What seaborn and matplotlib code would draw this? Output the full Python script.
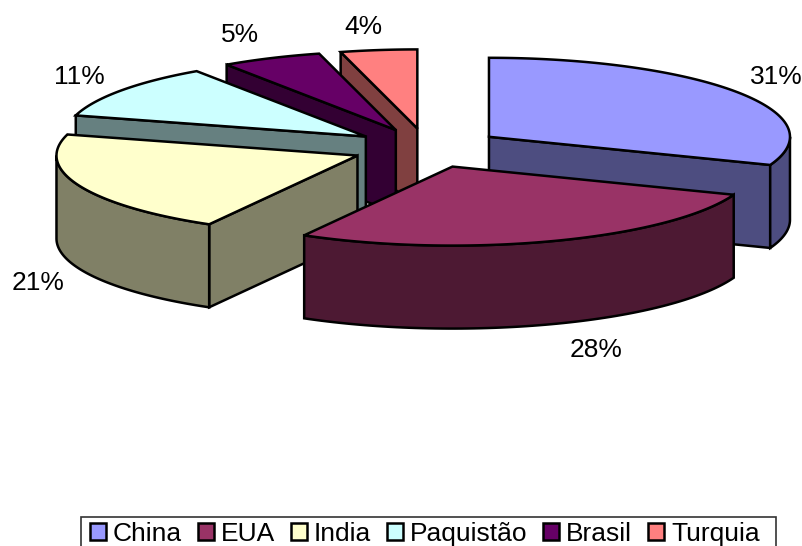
import numpy as np
import matplotlib
matplotlib.use("Agg")
import matplotlib.pyplot as plt
from matplotlib.patches import Polygon, Patch, Rectangle
import seaborn as sns

categories = ["China", "EUA", "India", "Paquistão", "Brasil", "Turquia"]
values = [30.8, 27.4, 21.1, 11.2, 5.4, 4.1]
pct_labels = ["31%", "28%", "21%", "11%", "5%", "4%"]
top_colors = ["#9999FF", "#993366", "#FFFFCC", "#CCFFFF", "#660066", "#FF8080"]
side_colors = ["#4D4D80", "#4D1933", "#808066", "#668080", "#330033", "#804040"]

sns.set_theme(style="white")
plt.rcParams["font.family"] = ["Liberation Sans", "DejaVu Sans"]
palette = sns.color_palette(top_colors)
side_palette = sns.color_palette(side_colors)

W, H = 803, 546
fig = plt.figure(figsize=(W / 100, H / 100), dpi=100)
ax = fig.add_axes([0, 0, 1, 1])
ax.set_xlim(0, W)
ax.set_ylim(H, 0)
ax.axis("off")

CX, CY, RX, RY, DEPTH, EXPLODE = 427, 148, 301, 79, 83, 0.25
LW = 1.8
label_pos = [(776, 77), (596, 350), (38, 283), (79, 77), (240, 35), (363, 27)]

fracs = np.array(values) / np.sum(values)
edges = np.concatenate([[0], np.cumsum(fracs)]) * 2 * np.pi


def pt(tip, a):
    return np.column_stack([tip[0] + RX * np.sin(a), tip[1] - RY * np.cos(a)])


def drop(p):
    return p + np.array([0, DEPTH])


def face(points, color, z):
    ax.add_patch(Polygon(points, closed=True, facecolor=color, edgecolor="black",
                         lw=LW, joinstyle="miter", zorder=z))


order = [5, 4, 3, 2, 0, 1]
for z, i in enumerate(order):
    a0, a1 = edges[i], edges[i + 1]
    mid = (a0 + a1) / 2
    tip = np.array([CX + EXPLODE * RX * np.sin(mid), CY - EXPLODE * RY * np.cos(mid)])
    base = z * 10
    tip_arr = tip[None, :]
    # visible cut faces
    if np.sin(a0) < 0:
        e = pt(tip, np.array([a0]))
        face(np.vstack([tip_arr, e, drop(e), drop(tip_arr)]), side_palette[i], base + 1)
    if np.sin(a1) > 0:
        e = pt(tip, np.array([a1]))
        face(np.vstack([tip_arr, e, drop(e), drop(tip_arr)]), side_palette[i], base + 1)
    # outer wall (front half of the rim)
    lo, hi = max(a0, np.pi / 2), min(a1, 3 * np.pi / 2)
    if hi > lo:
        arc = pt(tip, np.linspace(lo, hi, 80))
        face(np.vstack([arc, drop(arc)[::-1]]), side_palette[i], base + 2)
    # top face
    arc = pt(tip, np.linspace(a0, a1, 120))
    face(np.vstack([tip_arr, arc]), palette[i], base + 3)

for s, (x, y) in zip(pct_labels, label_pos):
    ax.text(x, y, s, ha="center", va="center", fontsize=19, color="black", zorder=200)

# legend frame runs past the bottom edge of the picture, as in the reference
ax.add_patch(Rectangle((81, 517), 695, 50, facecolor="white", edgecolor="#333333",
                       lw=1.2, zorder=290))
handles = [Patch(facecolor=c, edgecolor="black", lw=1.8) for c in palette]
leg = ax.legend(handles, categories, ncol=6, loc="upper left",
                bbox_to_anchor=(90 / W, 1 - 522 / H), bbox_transform=fig.transFigure,
                fontsize=19, frameon=False, labelcolor="black",
                handlelength=0.6, handleheight=0.6, handletextpad=0.27,
                columnspacing=0.6, borderpad=0, borderaxespad=0)
leg.set_zorder(300)

fig.savefig("out.png", dpi=100, facecolor="white")
